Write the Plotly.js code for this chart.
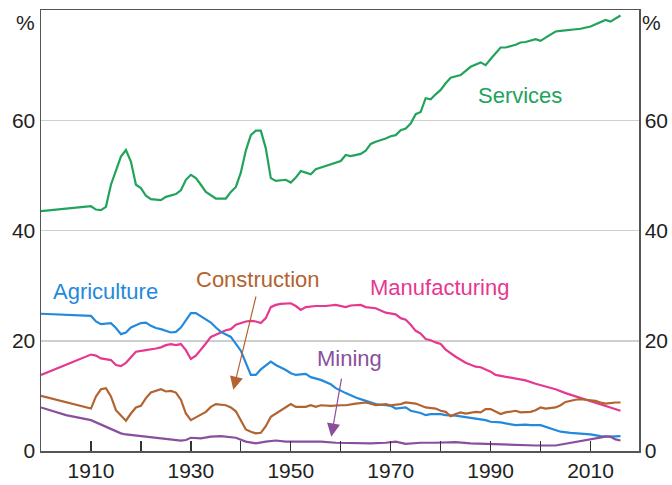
<!DOCTYPE html>
<html>
<head>
<meta charset="utf-8">
<script src="https://cdn.plot.ly/plotly-3.0.1.min.js"></script>
<style>html,body{margin:0;padding:0;background:#fff;}#chart{width:672px;height:485px;}</style>
</head>
<body>
<div id="chart"></div>
<script>
// ---- Data (share of employment by industry, %) ----
const servicesYears = [1900,1910,1911,1912,1913,1914,1916,1917,1918,1919,1920,1921,1922,1924,1925,1927,1928,1929,1930,1931,1932,1933,1935,1937,1938,1939,1940,1941,1942,1943,1944,1945,1946,1947,1949,1950,1951,1952,1953,1954,1955,1957,1959,1960,1961,1962,1964,1965,1966,1967,1969,1970,1971,1972,1973,1974,1975,1976,1977,1978,1979,1980,1981,1982,1984,1985,1986,1988,1989,1990,1992,1993,1995,1996,1997,1999,2000,2001,2002,2003,2004,2006,2007,2008,2010,2011,2012,2013,2014,2015,2016];
const services = [43.5,44.4,43.8,43.7,44.3,48.3,53.4,54.6,52.5,48.3,47.7,46.3,45.7,45.5,46.1,46.6,47.3,49.2,50.1,49.5,48.3,47.0,45.8,45.8,47.0,47.9,50.5,54.5,57.3,58.1,58.1,54.9,49.5,49.0,49.2,48.7,49.6,50.8,50.5,50.2,51.1,51.7,52.2,52.6,53.7,53.5,53.9,54.5,55.7,56.1,56.7,57.1,57.3,58.2,58.5,59.4,61.1,61.5,64.0,63.8,64.7,65.5,66.7,67.7,68.2,68.9,69.7,70.5,70.0,71.1,73.2,73.2,73.7,74.1,74.2,74.7,74.4,75.0,75.5,76.1,76.2,76.4,76.5,76.6,77.0,77.4,77.9,78.2,77.9,78.5,79.0];

const agricultureYears = [1900,1910,1911,1912,1914,1915,1916,1917,1918,1920,1921,1922,1923,1924,1926,1927,1928,1929,1930,1931,1932,1934,1935,1936,1938,1939,1940,1941,1942,1943,1944,1946,1947,1949,1950,1951,1953,1954,1956,1958,1959,1961,1963,1965,1967,1969,1970,1971,1973,1974,1976,1977,1978,1980,1981,1983,1985,1987,1989,1990,1992,1993,1995,1997,1998,2000,2001,2003,2004,2006,2008,2010,2012,2014,2016];
const agriculture = [24.9,24.5,23.5,23.0,23.2,22.3,21.2,21.5,22.4,23.2,23.3,22.7,22.3,22.1,21.5,21.6,22.4,23.8,25.0,25.0,24.4,23.3,22.4,21.6,20.7,19.5,18.2,16.0,13.8,13.8,14.8,16.2,15.6,14.7,14.1,13.8,14.0,13.4,12.9,12.1,11.4,10.5,9.7,9.1,8.5,8.3,8.2,7.7,7.9,7.3,6.9,6.5,6.7,6.7,6.5,6.4,6.1,5.9,5.6,5.3,5.2,5.0,4.7,4.8,4.7,4.7,4.4,3.8,3.5,3.3,3.2,3.0,2.7,2.6,2.7];

const manufacturingYears = [1900,1910,1911,1912,1914,1915,1916,1917,1919,1920,1921,1923,1924,1925,1926,1927,1928,1929,1930,1931,1932,1933,1934,1936,1937,1938,1939,1941,1942,1943,1944,1945,1946,1947,1948,1950,1951,1952,1953,1955,1957,1959,1960,1961,1962,1964,1965,1967,1968,1969,1971,1972,1973,1974,1975,1976,1977,1978,1979,1980,1981,1983,1985,1987,1988,1990,1991,1993,1995,1997,1999,2001,2003,2005,2007,2009,2011,2013,2014,2016];
const manufacturing = [13.8,17.5,17.3,16.8,16.5,15.6,15.4,16.0,18.0,18.1,18.3,18.6,18.8,19.2,19.4,19.2,19.4,18.3,16.7,17.3,18.3,19.5,20.7,21.6,21.9,22.1,22.9,23.5,23.6,23.5,23.2,24.1,26.1,26.5,26.7,26.8,26.3,25.6,26.1,26.3,26.3,26.5,26.3,26.1,26.4,26.5,26.1,25.9,25.5,25.1,24.8,24.1,23.8,22.9,21.8,21.3,20.3,20.1,19.7,19.4,18.4,17.1,16.0,15.3,15.2,14.4,13.8,13.5,13.2,12.8,12.2,11.7,11.2,10.5,9.9,9.3,8.7,8.2,7.9,7.3];

const constructionYears = [1900,1910,1911,1912,1913,1914,1915,1917,1918,1919,1920,1921,1922,1924,1925,1926,1927,1928,1929,1930,1931,1933,1934,1935,1937,1938,1939,1940,1941,1942,1943,1944,1945,1946,1947,1948,1949,1950,1951,1953,1954,1955,1956,1958,1960,1961,1963,1965,1966,1967,1969,1970,1972,1973,1975,1976,1977,1979,1980,1981,1982,1983,1984,1985,1987,1988,1989,1990,1991,1992,1993,1995,1996,1998,1999,2000,2001,2003,2004,2005,2007,2008,2009,2011,2012,2013,2015,2016];
const construction = [10.0,7.7,9.9,11.2,11.4,9.9,7.4,5.5,6.8,7.9,8.2,9.6,10.6,11.2,10.8,10.9,10.6,9.3,6.8,5.6,6.1,7.1,8.0,8.5,8.3,7.9,7.2,5.6,3.9,3.5,3.2,3.3,4.5,6.2,6.8,7.4,7.9,8.5,8.0,8.0,8.3,8.0,8.3,8.2,8.3,8.3,8.6,8.8,8.6,8.3,8.5,8.3,8.5,8.8,8.6,8.3,7.9,7.7,7.3,7.1,6.3,6.7,7.0,6.8,7.1,7.0,7.6,7.6,7.1,6.7,7.0,7.3,7.0,7.1,7.4,7.9,7.7,7.9,8.3,8.9,9.3,9.4,9.3,9.1,8.8,8.6,8.8,8.8];

const miningYears = [1900,1905,1910,1912,1914,1916,1917,1919,1921,1923,1925,1927,1928,1929,1930,1932,1934,1936,1937,1939,1941,1943,1945,1947,1949,1953,1956,1959,1963,1966,1969,1971,1973,1976,1979,1981,1983,1986,1989,1993,1996,1999,2003,2005,2007,2009,2011,2013,2014,2015,2016];
const mining = [7.9,6.5,5.6,4.8,4.1,3.2,3.0,2.8,2.6,2.4,2.3,2.1,1.9,2.0,2.4,2.3,2.6,2.7,2.6,2.4,1.7,1.4,1.7,1.9,1.7,1.7,1.7,1.5,1.4,1.4,1.5,1.7,1.3,1.5,1.5,1.6,1.6,1.4,1.3,1.1,1.0,1.0,1.0,1.3,1.6,1.9,2.3,2.6,2.6,2.1,1.9];

const yTicks = [0, 20, 40, 60];
const xTickLabels = [1910, 1930, 1950, 1970, 1990, 2010];

// ---- Styling ----
const FONT = 'Arial, "Liberation Sans", sans-serif';
const C = {
  services: '#22a35c',
  agriculture: '#2389dc',
  manufacturing: '#e6388f',
  construction: '#b3632f',
  mining: '#8a4f9c'
};

function line(x, y, color, name) {
  return {x: x, y: y, type: 'scatter', mode: 'lines', name: name,
          line: {color: color, width: 2.2}, hoverinfo: 'skip'};
}

const traces = [
  line(servicesYears, services, C.services, 'Services'),
  line(manufacturingYears, manufacturing, C.manufacturing, 'Manufacturing'),
  line(agricultureYears, agriculture, C.agriculture, 'Agriculture'),
  line(constructionYears, construction, C.construction, 'Construction'),
  line(miningYears, mining, C.mining, 'Mining'),
  // invisible trace to activate the right-hand axis
  {x: [1900], y: [0], yaxis: 'y2', type: 'scatter', mode: 'markers',
   marker: {opacity: 0}, hoverinfo: 'skip', showlegend: false}
];

function label(text, x, y, color) {
  return {text: text, x: x, y: y, xref: 'x', yref: 'y', showarrow: false,
          xanchor: 'center', yanchor: 'middle',
          font: {family: FONT, size: 22, color: color}};
}
function arrow(color, x, y, ax, ay) {
  return {text: '', x: x, y: y, ax: ax, ay: ay, xref: 'x', yref: 'y',
          axref: 'x', ayref: 'y', showarrow: true, arrowhead: 2,
          arrowsize: 2.2, arrowwidth: 1.2, arrowcolor: color, standoff: 0, startstandoff: 0};
}

const annotations = [
  label('Services', 1995.8, 64.4, C.services),
  label('Agriculture', 1912.9, 29.0, C.agriculture),
  label('Construction', 1943.4, 31.1, C.construction),
  label('Manufacturing', 1979.7, 29.7, C.manufacturing),
  label('Mining', 1961.7, 16.8, C.mining),
  arrow(C.construction, 1938.5, 11.1, 1943.1, 28.3),
  arrow(C.mining, 1958.1, 2.6, 1960.2, 13.4),
  {text: '%', xref: 'paper', yref: 'paper', x: 0, y: 1, xanchor: 'right', yanchor: 'top',
   xshift: -4, yshift: 1, showarrow: false, font: {family: FONT, size: 21, color: '#222'}},
  {text: '%', xref: 'paper', yref: 'paper', x: 1, y: 1, xanchor: 'left', yanchor: 'top',
   xshift: 1, yshift: 1, showarrow: false, font: {family: FONT, size: 21, color: '#222'}}
];

const layout = {
  width: 672, height: 485,
  margin: {l: 41, r: 33, t: 10, b: 34},
  paper_bgcolor: '#fff', plot_bgcolor: '#fff',
  showlegend: false,
  font: {family: FONT, size: 21, color: '#222'},
  xaxis: {
    range: [1900, 2019.7], showgrid: false, zeroline: false,
    showline: true, linecolor: '#555', linewidth: 1.5, mirror: true,
    tickmode: 'array', tickvals: xTickLabels, ticktext: xTickLabels.map(String),
    ticks: 'inside', ticklen: 10, tickwidth: 1.3, tickcolor: '#333',
    minor: {tickmode: 'array', tickvals: [1920, 1940, 1960, 1980, 2000],
            ticks: 'inside', ticklen: 10, tickwidth: 1.3, tickcolor: '#333'},
    tickfont: {family: FONT, size: 21, color: '#222'}
  },
  yaxis: {
    range: [0, 80], showgrid: true, gridcolor: '#cfcfcf', gridwidth: 1.5,
    zeroline: false, showline: true, linecolor: '#555', linewidth: 1.5,
    tickmode: 'array', tickvals: yTicks, ticktext: yTicks.map(String),
    ticks: '', tickfont: {family: FONT, size: 21, color: '#222'}
  },
  yaxis2: {
    range: [0, 80], overlaying: 'y', side: 'right', showgrid: false,
    zeroline: false, showline: true, linecolor: '#555', linewidth: 1.5,
    tickmode: 'array', tickvals: yTicks, ticktext: yTicks.map(String),
    ticks: '', tickfont: {family: FONT, size: 21, color: '#222'}
  },
  annotations: annotations
};

Plotly.newPlot('chart', traces, layout, {displayModeBar: false, staticPlot: true});
</script>
</body>
</html>
